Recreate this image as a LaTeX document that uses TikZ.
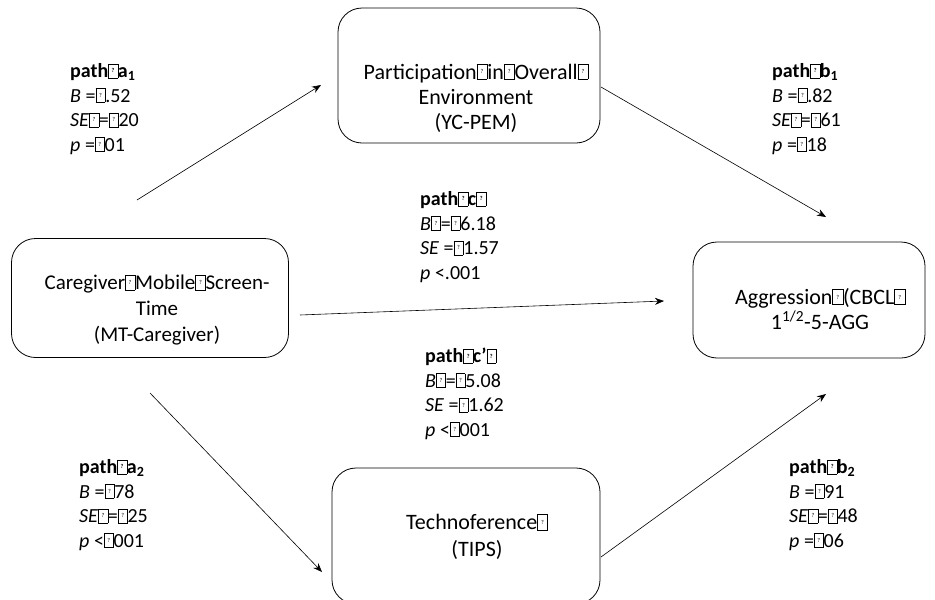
\documentclass[tikz,border=0pt]{standalone}
\usepackage{fontspec}
\setmainfont{Carlito}
\usetikzlibrary{arrows.meta}
\newcommand{\tofu}{{\setlength{\fboxsep}{0pt}\setlength{\fboxrule}{0.35pt}\fbox{\parbox[b][0.68em][c]{0.45em}{\centering\fontsize{6}{6}\selectfont ?}}}}
\tikzset{
  varbox/.style={draw, line width=0.8pt, rounded corners=24pt, inner sep=0pt},
  boxtext/.style={inner sep=0pt, align=center, font=\fontsize{22}{25}\selectfont},
  pathlabel/.style={anchor=west, inner sep=0pt, align=left, font=\fontsize{20}{24.5}\selectfont},
  conn/.style={line width=0.6pt, -{Stealth[length=9pt,width=7pt]}}
}
\begin{document}
\begin{tikzpicture}[x=1pt,y=-1pt]
\useasboundingbox (0,0) rectangle (935,600);
% boxes
\node[varbox, minimum width=262pt, minimum height=135pt] (pem) at (469,75.5) {};
\node[boxtext] (pemt) at (476,98) {Participation\tofu in\tofu Overall\tofu\\Environment\\(YC-PEM)};
\node[varbox, minimum width=277pt, minimum height=119pt] (mt) at (150,298) {};
\node[boxtext, font=\fontsize{21}{26}\selectfont] (mtt) at (157,310) {Caregiver\tofu Mobile\tofu Screen-\\Time\\(MT-Caregiver)};
\node[varbox, minimum width=232pt, minimum height=116pt] (agg) at (809,300) {};
\node[boxtext] (aggt) at (820,309) {Aggression\tofu(CBCL\tofu\\1\textsuperscript{1/2}-5-AGG};
\node[varbox, minimum width=268pt, minimum height=136pt] (tips) at (466,536) {};
\node[boxtext, font=\fontsize{22}{27}\selectfont] (tipst) at (477,537) {Technoference\tofu\\(TIPS)};
% connector end points
\coordinate (a1s) at (137,200);
\coordinate (a1e) at (321,85);
\coordinate (b1s) at (601,87);
\coordinate (b1e) at (826,217);
\coordinate (cs) at (300,315);
\coordinate (ce) at (664,301);
\coordinate (a2s) at (150,393);
\coordinate (a2e) at (322,572);
\coordinate (b2s) at (601,557);
\coordinate (b2e) at (826,394);
\draw[conn] (a1s) -- (a1e);
\draw[conn] (b1s) -- (b1e);
\draw[conn] (cs) -- (ce);
\draw[conn] (a2s) -- (a2e);
\draw[conn] (b2s) -- (b2e);
% labels
\node[pathlabel] (la1) at (70,109) {\textbf{path\tofu a\textsubscript{1}}\\\textit{B} =\tofu.52\\\textit{SE}\tofu=\tofu20\\\textit{p} =\tofu01};
\node[pathlabel] (lb1) at (772,109) {\textbf{path\tofu b\textsubscript{1}}\\\textit{B} =\tofu.82\\\textit{SE}\tofu=\tofu61\\\textit{p} =\tofu18};
\node[pathlabel] (lc) at (420,237) {\textbf{path\tofu c\tofu}\\\textit{B}\tofu=\tofu6.18\\\textit{SE} =\tofu1.57\\\textit{p} <.001};
\node[pathlabel] (lcp) at (425,394) {\textbf{path\tofu c’\tofu}\\\textit{B}\tofu=\tofu5.08\\\textit{SE} =\tofu1.62\\\textit{p} <\tofu001};
\node[pathlabel] (la2) at (79,505) {\textbf{path\tofu a\textsubscript{2}}\\\textit{B} =\tofu78\\\textit{SE}\tofu=\tofu25\\\textit{p} <\tofu001};
\node[pathlabel] (lb2) at (789,505) {\textbf{path\tofu b\textsubscript{2}}\\\textit{B} =\tofu91\\\textit{SE}\tofu=\tofu48\\\textit{p} =\tofu06};
\end{tikzpicture}
\end{document}
